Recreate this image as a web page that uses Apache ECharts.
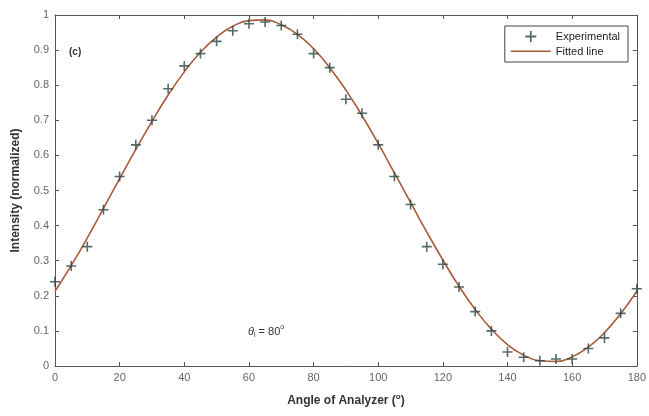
<!DOCTYPE html>
<html>
<head>
<meta charset="utf-8">
<script src="https://cdn.jsdelivr.net/npm/echarts@6/dist/echarts.min.js"></script>
<style>
  html, body { margin: 0; padding: 0; background: #fff; }
  #main { width: 649px; height: 416px; }
</style>
</head>
<body>
<div id="main"></div>
<script>
// angle of analyzer (deg), every 5 degrees
const angles = [0, 5, 10, 15, 20, 25, 30, 35, 40, 45, 50, 55, 60, 65, 70, 75, 80, 85, 90,
  95, 100, 105, 110, 115, 120, 125, 130, 135, 140, 145, 150, 155, 160, 165, 170, 175, 180];
const experimental = [0.24, 0.285, 0.34, 0.445, 0.54, 0.63, 0.70, 0.79, 0.855, 0.89, 0.925, 0.955,
  0.975, 0.98, 0.97, 0.945, 0.89, 0.85, 0.76, 0.72, 0.63, 0.54, 0.46, 0.34, 0.29, 0.225, 0.155,
  0.10, 0.04, 0.025, 0.015, 0.02, 0.02, 0.05, 0.08, 0.15, 0.22];
// fitted curve at the same angles
const fitted = [0.213, 0.286, 0.365, 0.449, 0.534, 0.617, 0.697, 0.772, 0.838, 0.894, 0.937, 0.968,
  0.984, 0.986, 0.972, 0.945, 0.904, 0.850, 0.786, 0.713, 0.634, 0.550, 0.466, 0.382, 0.302, 0.227,
  0.161, 0.105, 0.061, 0.031, 0.015, 0.013, 0.026, 0.054, 0.095, 0.149, 0.213];
const xTicks = { min: 0, max: 180, interval: 20 };
const yTicks = { min: 0, max: 1, interval: 0.1 };

const FONT = 'Liberation Sans';
const axisColor = '#555';
const markColor = '#2b4646';
const fitColor = '#a95a3a';
const plusPath = 'path://M4.2,0h1.6v4.2h4.2v1.6h-4.2v4.2h-1.6v-4.2h-4.2v-1.6h4.2z';
// thin horizontal stroke; the tiny corner dots keep the box square so it is not stretched
const dashPath = 'path://M0,0h0.01v0.01h-0.01z M0,4.6h40v1.4h-40z M40,10.99h0.01v0.01h-0.01z';

const chart = echarts.init(document.getElementById('main'));

const tickStyle = { show: true, inside: true, length: 4, lineStyle: { color: axisColor, width: 1 } };
const lineStyle = { show: true, onZero: false, lineStyle: { color: axisColor, width: 1 } };

chart.setOption({
  animation: false,
  textStyle: { fontFamily: FONT },
  grid: { left: 55, right: 10, top: 15, bottom: 50, containLabel: false },
  legend: {
    right: 21, top: 26,
    orient: 'vertical',
    backgroundColor: '#fff',
    borderColor: '#444', borderWidth: 1, borderRadius: 0,
    padding: [5, 8, 5, 6],
    itemWidth: 40, itemHeight: 11, itemGap: 4,
    textStyle: { fontSize: 11, color: '#222', fontFamily: FONT },
    data: [
      { name: 'Experimental', icon: plusPath, itemStyle: { color: markColor } },
      { name: 'Fitted line', icon: dashPath, itemStyle: { color: fitColor } }
    ]
  },
  xAxis: [{
    type: 'value', position: 'bottom', ...xTicks,
    axisLine: lineStyle, axisTick: tickStyle, splitLine: { show: false },
    axisLabel: { color: '#666', fontSize: 11, margin: 6 },
    name: '{a|Angle of Analyzer (}{s|o}{a|)}',
    nameLocation: 'middle', nameGap: 27,
    nameTextStyle: {
      rich: {
        a: { fontSize: 12, fontWeight: 'bold', color: '#333', fontFamily: FONT },
        s: { fontSize: 8, fontWeight: 'bold', color: '#333', fontFamily: FONT, padding: [0, 0, 7, 0] }
      }
    }
  }, {
    type: 'value', position: 'top', ...xTicks,
    axisLine: lineStyle, axisTick: tickStyle, axisLabel: { show: false }, splitLine: { show: false }
  }],
  yAxis: [{
    type: 'value', position: 'left', ...yTicks,
    axisLine: lineStyle, axisTick: tickStyle, splitLine: { show: false },
    axisLabel: { color: '#666', fontSize: 11, margin: 6 },
    name: 'Intensity (normalized)',
    nameLocation: 'middle', nameGap: 33,
    nameTextStyle: { fontSize: 12, fontWeight: 'bold', color: '#333', fontFamily: FONT }
  }, {
    type: 'value', position: 'right', ...yTicks,
    axisLine: lineStyle, axisTick: tickStyle, axisLabel: { show: false }, splitLine: { show: false }
  }],
  series: [{
    name: 'Fitted line',
    type: 'line',
    smooth: true,
    symbol: 'none',
    data: angles.map((a, i) => [a, fitted[i]]),
    lineStyle: { color: fitColor, width: 1.6 },
    itemStyle: { color: fitColor },
    z: 2
  }, {
    name: 'Experimental',
    type: 'scatter',
    symbol: plusPath,
    symbolSize: 10,
    data: angles.map((a, i) => [a, experimental[i]]),
    itemStyle: { color: markColor },
    z: 3
  }],
  graphic: [{
    type: 'text', left: 69, top: 47,
    style: { text: '(c)', fontSize: 10, fontWeight: 'bold', fill: '#333', fontFamily: FONT }
  }, {
    type: 'text', left: 248, top: 324,
    style: {
      text: '{t|θ}{sub|i}{n| = 80}{sup|o}',
      rich: {
        t: { fontSize: 11, fontStyle: 'italic', fill: '#333', fontFamily: FONT },
        sub: { fontSize: 7, fill: '#333', fontFamily: FONT, padding: [8, 0, 0, 0] },
        n: { fontSize: 11, fill: '#333', fontFamily: FONT },
        sup: { fontSize: 7, fill: '#333', fontFamily: FONT, padding: [0, 0, 8, 0] }
      }
    }
  }]
});
</script>
</body>
</html>
